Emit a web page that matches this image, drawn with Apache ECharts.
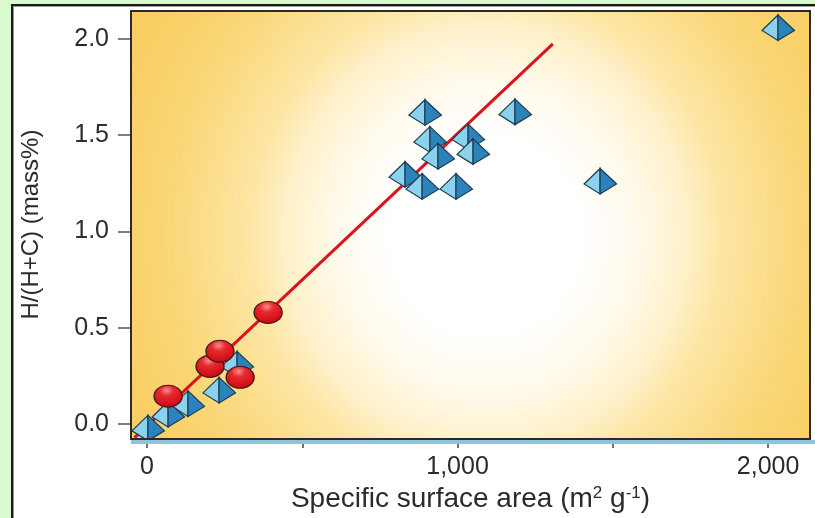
<!DOCTYPE html>
<html><head><meta charset="utf-8">
<script src="https://cdn.jsdelivr.net/npm/echarts@6/dist/echarts.min.js"></script>
<style>
html,body{margin:0;padding:0;background:#dafad0;overflow:hidden;}
#panel{position:absolute;left:11px;top:4px;width:830px;height:540px;background:#fff;border:2px solid #1a1a1a;box-shadow:inset 1px 1px 0 #9a9a9a;}
#c{position:absolute;left:0;top:0;width:815px;height:518px;}
</style>
</head><body><div id="panel"></div><div id="c"></div>
<script>
// ---- data ----
const xTicks = [0, 500, 1000, 1500, 2000];
const xTickLabels = [0, 1000, 2000];
const yTicks = [0, 0.5, 1.0, 1.5, 2.0];

const pyramidX = [895, 1185, 1034, 911, 1050, 937, 831, 886, 995, 1459, 2032, 290, 232, 132, 68, 3];
const pyramidY = [1.617, 1.62, 1.49, 1.477, 1.414, 1.39, 1.295, 1.233, 1.233, 1.26, 2.057, 0.31, 0.175, 0.105, 0.05, -0.022];

const sphereX = [390, 203, 235, 300, 68];
const sphereY = [0.58, 0.30, 0.378, 0.243, 0.145];

const fitX = [-40, 1307];
const fitY = [-0.07, 1.974];

// ---- chart ----
const chart = echarts.init(document.getElementById('c'));
const FONT = '"Liberation Sans", Arial, Helvetica, sans-serif';

const pyramids = pyramidX.map((x, i) => [x, pyramidY[i]]);
const spheres = sphereX.map((x, i) => [x, sphereY[i]]);
const fitLine = fitX.map((x, i) => [x, fitY[i]]);

const G = { left: 131, top: 11, right: 810, bottom: 439 };
const SY = 1.05;

chart.setOption({
  backgroundColor: 'transparent',
  animation: false,
  grid: { left: G.left, right: 815 - G.right, top: G.top, bottom: 518 - G.bottom, show: false },
  graphic: [
    {
      type: 'rect', x: G.left, y: G.top, scaleY: SY, z: -10, silent: true,
      shape: { x: 0, y: 0, width: G.right - G.left, height: (G.bottom - G.top) / SY },
      style: {
        fill: {
          type: 'radial', global: true, x: 355, y: 225 / SY, r: 470,
          colorStops: [
            { offset: 0, color: '#ffffff' },
            { offset: 0.2, color: '#ffffff' },
            { offset: 0.32, color: '#fffaeb' },
            { offset: 0.43, color: '#fef0c8' },
            { offset: 0.5, color: '#fde6a5' },
            { offset: 0.6, color: '#fbdd8a' },
            { offset: 0.7, color: '#f9d572' },
            { offset: 0.8, color: '#f9d066' },
            { offset: 1, color: '#f8c955' }
          ]
        }
      }
    },
    {
      type: 'rect', z: 10, silent: true,
      shape: { x: G.left, y: G.bottom + 1, width: 815 - G.left, height: 4 },
      style: { fill: '#8cc3df' }
    },
    {
      type: 'rect', z: 10, silent: true,
      shape: { x: G.left, y: G.top, width: G.right - G.left, height: G.bottom - G.top },
      style: { fill: null, stroke: '#2a2a2a', lineWidth: 2 }
    }
  ],
  xAxis: {
    type: 'value', min: -51.5, max: 2135,
    splitLine: { show: false },
    axisLine: { show: false, onZero: false },
    axisTick: { show: true, inside: false, customValues: xTicks, length: 10, lineStyle: { color: '#444', width: 1.5 } },
    axisLabel: {
      customValues: xTickLabels, margin: 17,
      formatter: v => Number(v).toLocaleString('en-US'),
      fontSize: 25, color: '#2b2b2b', fontFamily: FONT
    },
    name: 'Specific surface area (m{sup|2} g{sup|-1})',
    nameLocation: 'middle', nameGap: 43,
    nameTextStyle: {
      fontSize: 28, color: '#2b2b2b', fontFamily: FONT,
      rich: { sup: { fontSize: 17, verticalAlign: 'top', color: '#2b2b2b', fontFamily: FONT } }
    }
  },
  yAxis: {
    type: 'value', min: -0.0725, max: 2.145,
    splitLine: { show: false },
    axisLine: { show: false, onZero: false },
    axisTick: { show: true, inside: false, customValues: yTicks, length: 13, lineStyle: { color: '#555', width: 1.5 } },
    axisLabel: {
      customValues: yTicks, margin: 22,
      formatter: v => Number(v).toFixed(1),
      fontSize: 25, color: '#2b2b2b', fontFamily: FONT
    },
    name: 'H/(H+C) (mass%)',
    nameLocation: 'middle', nameGap: 88, nameRotate: 90,
    nameTextStyle: { fontSize: 24, color: '#2b2b2b', fontFamily: FONT }
  },
  series: [
    {
      type: 'line', data: fitLine, showSymbol: false, z: 2,
      lineStyle: { color: '#d8141c', width: 3 }
    },
    {
      type: 'custom', data: pyramids, z: 3,
      renderItem: function (params, api) {
        const p = api.coord([api.value(0), api.value(1)]);
        const x = p[0], y = p[1];
        const A = [x, y - 13], L = [x - 16, y + 2.5], B = [x, y + 12.5], R = [x + 16.5, y + 2.5];
        return {
          type: 'group',
          children: [
            { type: 'polygon', shape: { points: [A, L, B] }, style: { fill: '#8bd2ee', stroke: '#1c3c52', lineWidth: 1.2 } },
            { type: 'polygon', shape: { points: [A, B, R] }, style: { fill: '#2c82ba', stroke: '#1c3c52', lineWidth: 1.2 } }
          ]
        };
      }
    },
    {
      type: 'scatter', data: spheres, z: 4,
      symbol: 'circle', symbolSize: [28, 22],
      itemStyle: {
        color: {
          type: 'radial', x: 0.45, y: 0.25, r: 0.8,
          colorStops: [
            { offset: 0, color: '#f48c90' },
            { offset: 0.3, color: '#e62a30' },
            { offset: 0.75, color: '#d5101a' },
            { offset: 1, color: '#a40c12' }
          ]
        },
        borderColor: '#4a1414', borderWidth: 1.2, opacity: 1
      }
    }
  ]
});
</script>
</body></html>
